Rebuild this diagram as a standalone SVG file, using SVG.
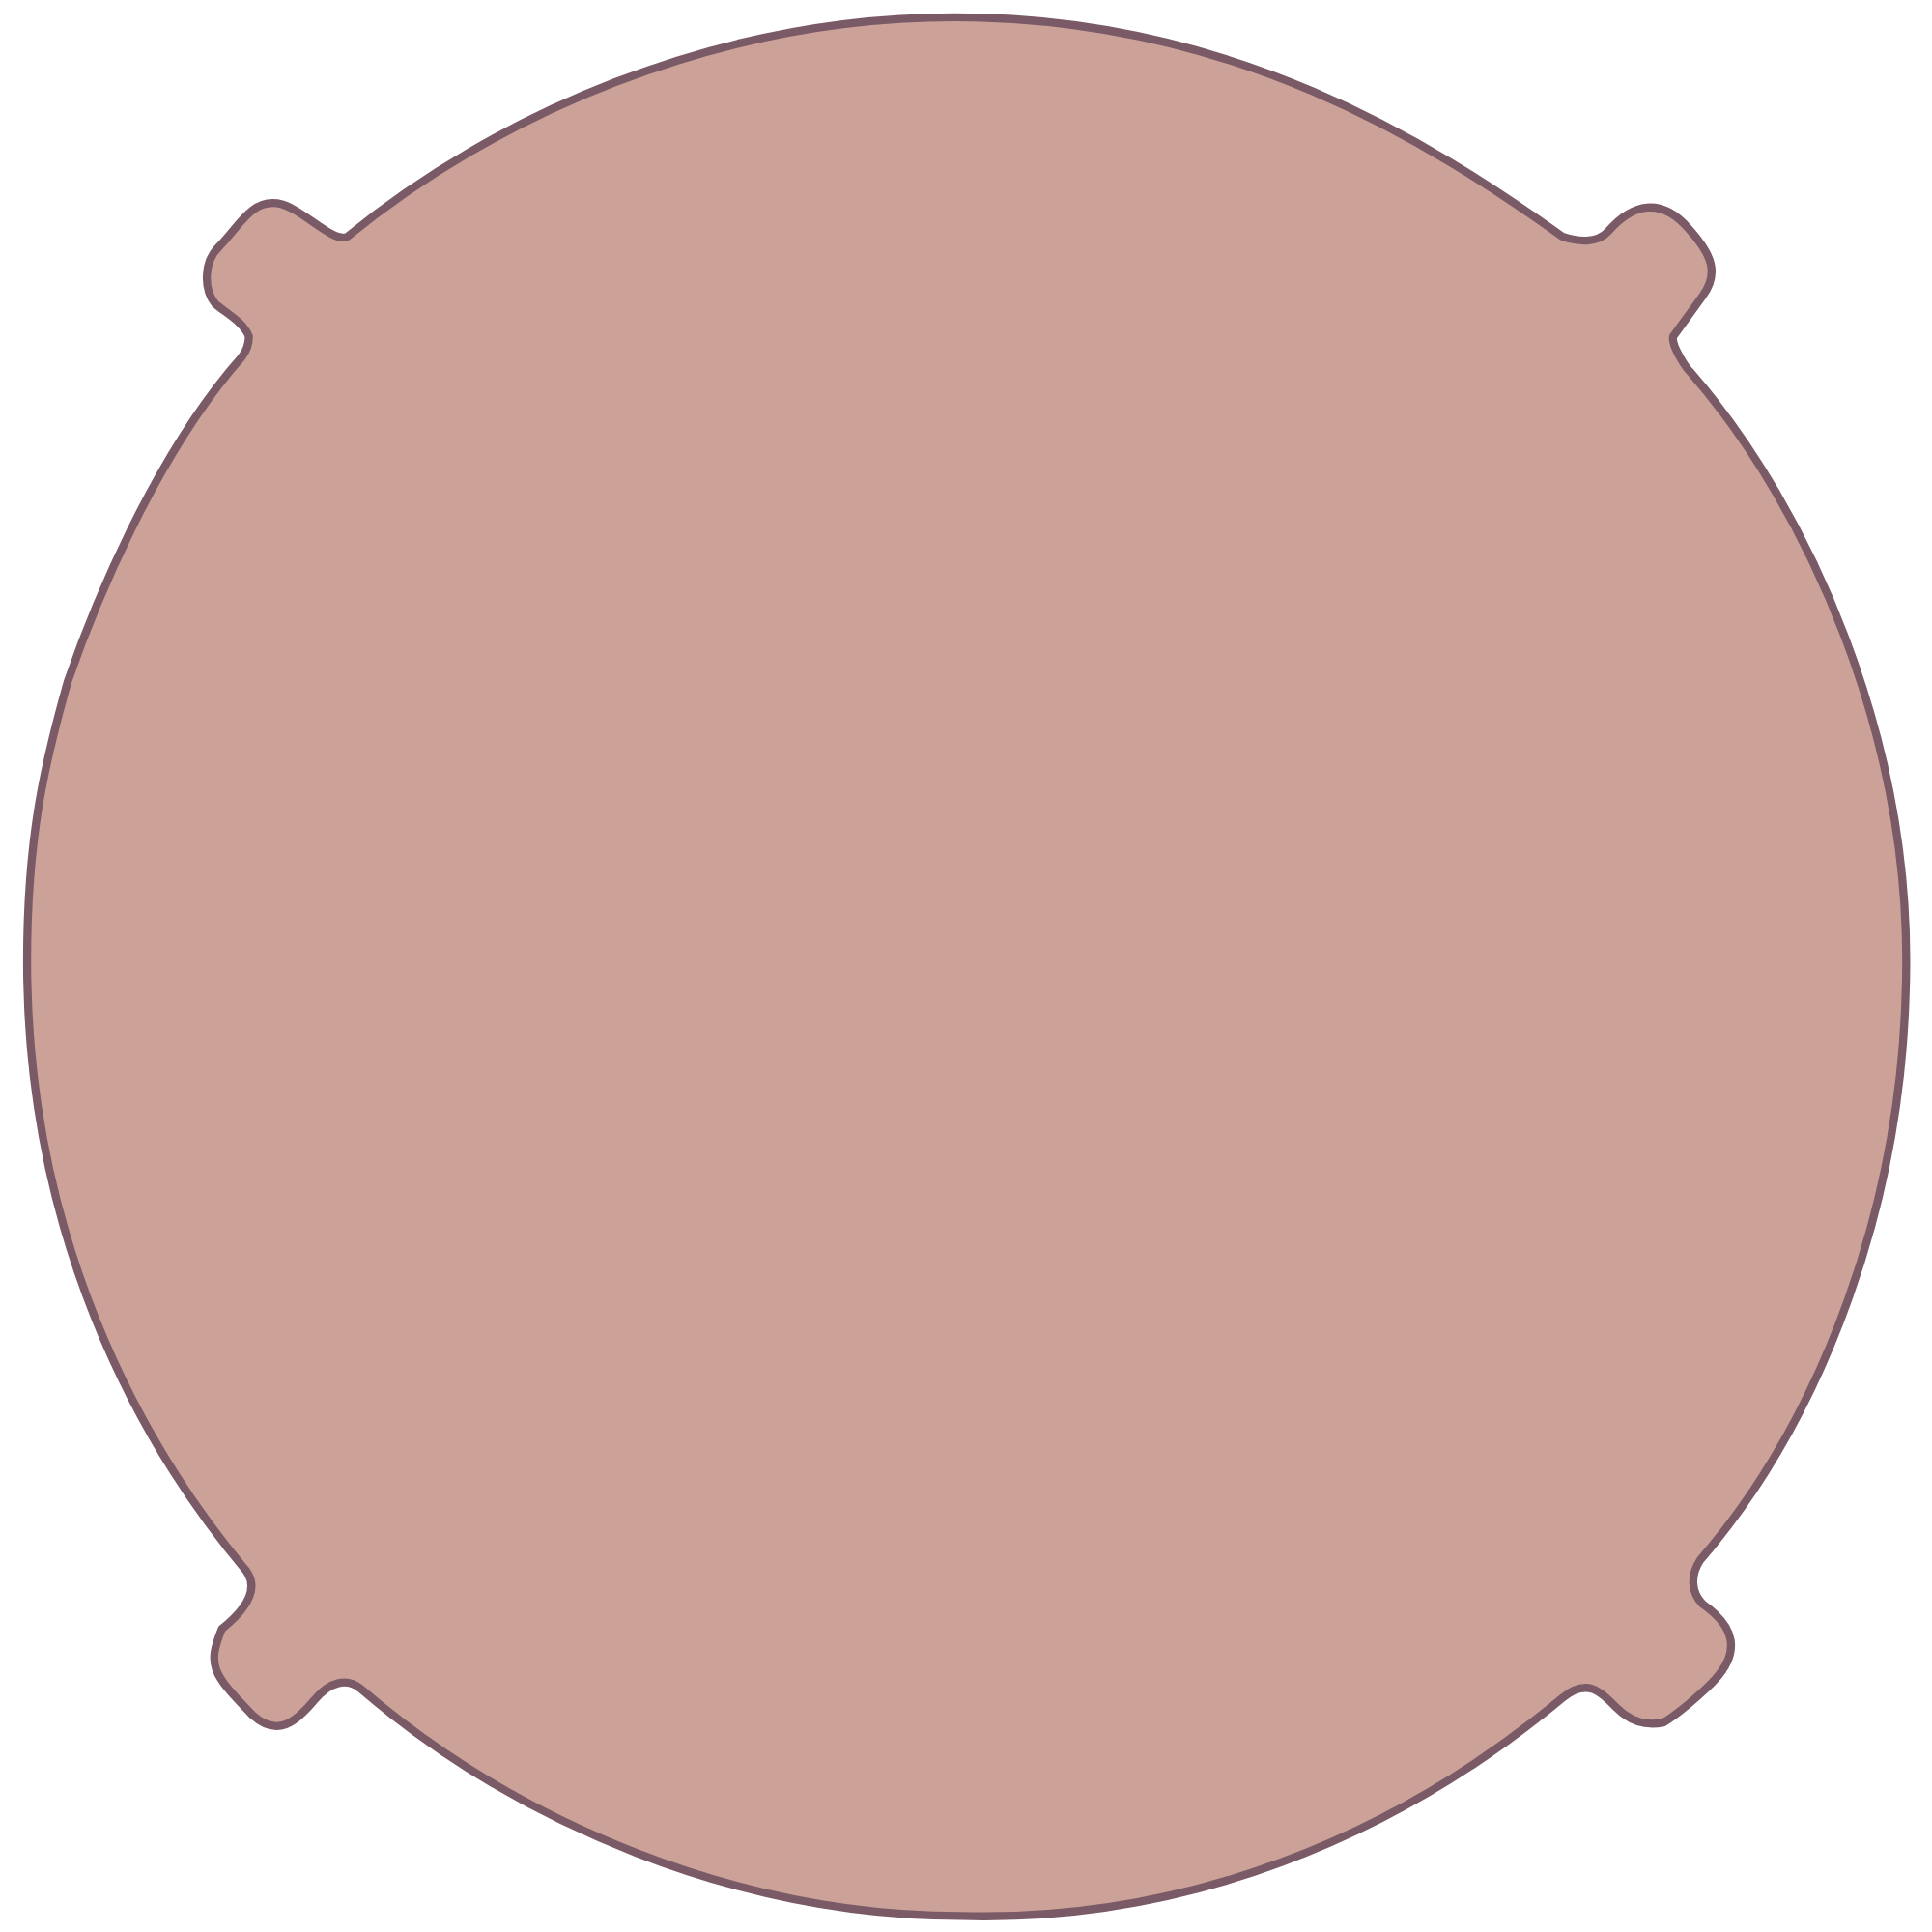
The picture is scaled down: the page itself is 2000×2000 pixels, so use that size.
<svg xmlns="http://www.w3.org/2000/svg" width="2000" height="2000" viewBox="0 0 2000 2000">
<style>
.shape{fill:#cba198;stroke:#7a5a67;stroke-width:6.5;stroke-linejoin:round}
</style>
<rect width="2000" height="2000" fill="#ffffff"/>
<g id="blob" transform="scale(1.27551)">
<path class="shape" d="M 775 14
C 1000 14, 1160 115, 1268 192
C 1280 196, 1296 198, 1305 188
C 1325 165, 1348 160, 1370 185
C 1390 207, 1395 222, 1382 240
L 1358 273
C 1356 280, 1368 298, 1372 302
C 1470 415, 1550 600, 1547 790
C 1545 975, 1480 1150, 1380 1266
C 1372 1278, 1372 1292, 1382 1302
C 1405 1318, 1418 1340, 1385 1370
C 1370 1384, 1360 1392, 1350 1398
C 1335 1401, 1322 1396, 1312 1386
C 1298 1372, 1288 1362, 1268 1378
C 1130 1493, 960 1560, 780 1555
C 600 1555, 420 1480, 292 1370
C 282 1362, 268 1364, 255 1380
C 240 1398, 225 1410, 205 1392
C 172 1358, 168 1352, 180 1322
C 195 1310, 212 1292, 200 1275
C 110 1168, 22 1000, 22 780
C 22 680, 36 620, 55 553
C 75 495, 125 370, 196 290
C 200 285, 202 278, 202 273
C 198 262, 185 255, 175 247
C 165 235, 165 212, 178 200
C 195 182, 205 162, 225 165
C 245 168, 270 198, 282 192
C 400 95, 580 14, 775 14 Z"/>
</g>
</svg>
